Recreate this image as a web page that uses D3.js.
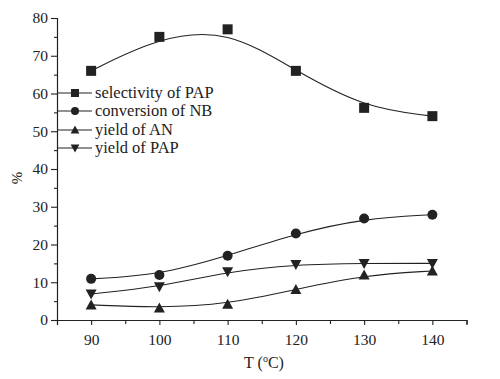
<!DOCTYPE html>
<html><head><meta charset="utf-8">
<script src="https://cdn.jsdelivr.net/npm/d3@7"></script>
<style>body{margin:0;background:#fff}svg{display:block}text{font-family:"Liberation Serif","Times New Roman",serif;fill:#222}</style>
</head><body><svg id="c" width="500" height="379"></svg>
<script>
const temps = [90, 100, 110, 120, 130, 140];
const selectivityPAP = [66, 75, 77, 66, 56.2, 54];
const conversionNB = [10.9, 11.9, 17, 22.9, 26.9, 27.9];
const yieldAN = [4, 3.2, 4.2, 8.1, 11.9, 13];
const yieldPAP = [6.9, 8.8, 12.8, 14.7, 15, 15];
const seriesNames = ["selectivity of PAP", "conversion of NB", "yield of AN", "yield of PAP"];
const seriesSymbols = ["square", "circle", "up", "down"];
const xTicks = [90, 100, 110, 120, 130, 140];
const yTicks = [0, 10, 20, 30, 40, 50, 60, 70, 80];

const series = [selectivityPAP, conversionNB, yieldAN, yieldPAP];
const svg = d3.select("#c");
const x = d3.scaleLinear().domain([85, 145]).range([57, 466.5]);
const y = d3.scaleLinear().domain([0, 80]).range([320, 18]);
const ink = "#222";

// axes
const yAxis = d3.axisLeft(y).tickValues(yTicks).tickSize(6).tickPadding(3);
svg.append("g").attr("transform", "translate(57,0)").call(yAxis);
const yMinor = d3.axisLeft(y).tickValues(d3.range(5, 80, 10)).tickSize(3).tickFormat("");
svg.append("g").attr("transform", "translate(57,0)").call(yMinor).select(".domain").remove();
const xAxis = d3.axisBottom(x).tickValues(xTicks).tickSize(5).tickPadding(9);
svg.append("g").attr("transform", "translate(0,320)").call(xAxis);
const xMinor = d3.axisBottom(x).tickValues([85, 95, 105, 115, 125, 135, 145]).tickSize(4).tickFormat("");
svg.append("g").attr("transform", "translate(0,320)").call(xMinor).select(".domain").remove();
svg.selectAll(".domain").attr("stroke", ink).attr("stroke-width", 1.2);
svg.selectAll(".tick line").attr("stroke", ink).attr("stroke-width", 1.1);
svg.selectAll(".tick text").attr("font-size", 15.5).attr("font-family", "Liberation Serif").attr("fill", ink);

// axis labels
svg.append("text").attr("transform", "translate(22,178) rotate(-90)").attr("text-anchor", "middle")
  .attr("font-size", 15).text("%");
const xl = svg.append("text").attr("x", 264).attr("y", 368).attr("text-anchor", "middle").attr("font-size", 16);
xl.append("tspan").text("T (");
xl.append("tspan").attr("font-size", 10).attr("dy", -6).text("o");
xl.append("tspan").attr("dy", 6).text("C)");

function drawSymbol(g, type, cx, cy, s) {
  if (type === "square") g.append("rect").attr("x", cx - 5*s).attr("y", cy - 5*s).attr("width", 10*s).attr("height", 10*s).attr("fill", ink);
  else if (type === "circle") g.append("circle").attr("cx", cx).attr("cy", cy).attr("r", 5*s).attr("fill", ink);
  else if (type === "up") g.append("path").attr("d", `M${cx},${cy-5.5*s}L${cx+5.5*s},${cy+4.5*s}L${cx-5.5*s},${cy+4.5*s}Z`).attr("fill", ink);
  else g.append("path").attr("d", `M${cx},${cy+5.5*s}L${cx+5.5*s},${cy-4.5*s}L${cx-5.5*s},${cy-4.5*s}Z`).attr("fill", ink);
}

const line = d3.line().x(d => x(d[0])).y(d => y(d[1])).curve(d3.curveBasis);
series.forEach((vals, i) => {
  const pts = temps.map((t, j) => [t, vals[j]]);
  svg.append("path").attr("d", line(pts)).attr("fill", "none").attr("stroke", ink).attr("stroke-width", 1.1);
  const g = svg.append("g");
  pts.forEach(p => drawSymbol(g, seriesSymbols[i], x(p[0]), y(p[1]), 1));
});

// legend
const legY = [93, 111, 130, 148];
seriesNames.forEach((n, i) => {
  const ly = legY[i];
  svg.append("line").attr("x1", 57).attr("x2", 92).attr("y1", ly).attr("y2", ly).attr("stroke", ink).attr("stroke-width", 1.1);
  drawSymbol(svg, seriesSymbols[i], 75, ly, 0.8);
  svg.append("text").attr("x", 95).attr("y", ly + 5).attr("font-size", 16.5).text(n);
});
</script></body></html>
